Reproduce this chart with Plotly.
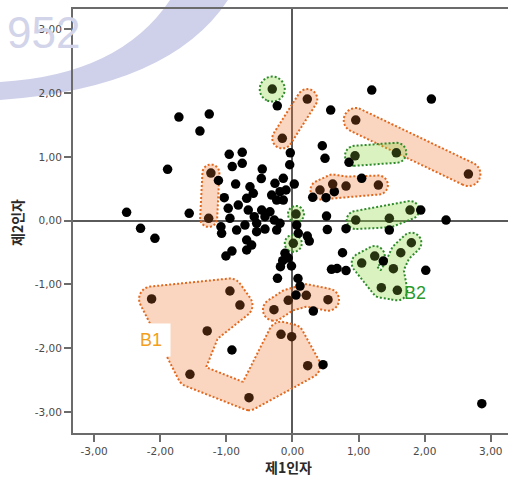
import numpy as np
import plotly.graph_objects as go

# ---- factor scores of the cases outside the marked groups ----
factor1 = [-1.718, -1.259, -1.400, -1.889, -2.509, -2.298, -2.081, -1.562,
           -0.957, -0.760, -0.911, -0.760, -1.120, -0.860, -0.457, -0.472,
           -0.033, -0.042, -0.265, -0.139, 0.027, -0.643, -0.593, -0.315,
           -0.189, -0.098, -0.693, -1.032, -0.239, -0.139, -0.820, -0.972,
           -0.669, -0.466, -0.341, -0.946, -0.578, -0.416, -0.189, -0.275,
           -0.542, -1.082, -0.719, -0.845, -0.542, -1.072, 0.064, 0.088,
           -0.693, -0.618, -1.007, -0.693, -0.114, -0.064, -0.148, -0.182,
           -0.015, -0.227, 0.083, 0.114, 0.053, 0.315, -0.230, 0.578,
           1.199, 2.101, 0.451, 0.492, 0.855, 1.047, 0.306, 0.507,
           0.633, 1.940, 2.323, 0.515, 0.527, 0.810, 1.465, 0.224,
           0.254, 0.757, 0.590, 0.674, 0.810, 1.374, 2.016, 0.462,
           2.864, -0.916, -0.916, -0.416, -0.239]
factor2 = [1.625, 1.672, 1.406, 0.805, 0.131, -0.120, -0.277, 0.115,
           1.040, 1.072, 0.849, 0.899, 0.630, 0.575, 0.810, 0.661,
           1.065, 0.877, 0.586, 0.664, 0.575, 0.532, 0.429, 0.402,
           0.454, 0.481, 0.350, 0.360, 0.324, 0.324, 0.245, 0.194,
           0.167, 0.167, 0.140, 0.037, 0.062, 0.062, -0.042, 0.010,
           -0.042, -0.095, -0.068, -0.147, -0.173, -0.198, -0.068, -0.198,
           -0.303, -0.382, -0.554, -0.460, -0.512, -0.586, -0.628, -0.722,
           -0.711, -0.904, -0.907, -1.025, -1.166, -1.417, 1.802, 1.735,
           2.048, 1.907, 1.175, 0.978, 0.915, 0.664, 0.366, 0.360,
           0.454, 0.167, 0.010, 0.073, -0.139, -0.126, -0.147, -0.241,
           -0.319, -0.503, -0.763, -0.750, -0.782, -0.633, -0.778, -2.259,
           -2.870, -2.028, -0.476, -0.131, -0.147]

# ---- marked groups (orange family) ----
b1_f1 = [-2.131, -0.946, -0.795, -1.290, -1.551, -0.658, -0.174, -0.012, 0.230]
b1_f2 = [-1.228, -1.103, -1.323, -1.730, -2.409, -2.776, -1.782, -1.820, -2.274]
o1_f1 = [-1.234, -1.268]
o1_f2 = [0.747, 0.037]
o2_f1 = [0.224, -0.154]
o2_f2 = [1.907, 1.291]
o3_f1 = [0.957, 2.661]
o3_f2 = [1.578, 0.731]
o4_f1 = [0.416, 0.608, 0.810, 1.299]
o4_f2 = [0.481, 0.575, 0.543, 0.559]
o5_f1 = [-0.280, -0.064, 0.209, 0.537]
o5_f2 = [-1.396, -1.249, -1.170, -1.239]

# ---- marked groups (green family) ----
b2_f1 = [1.047, 1.244, 1.526, 1.638, 1.798, 1.344, 1.586]
b2_f2 = [-0.664, -0.555, -0.753, -0.503, -0.346, -1.051, -1.092]
g1_f1 = [-0.306]
g1_f2 = [2.064]
g2_f1 = [0.946, 1.571]
g2_f2 = [1.018, 1.065]
g3_f1 = [0.957, 1.465, 1.778]
g3_f2 = [0.010, 0.037, 0.167]
g4_f1 = [0.053]
g4_f2 = [0.104]
g5_f1 = [0.012]
g5_f2 = [-0.355]

# axis ticks
tick_values = [-3, -2, -1, 0, 1, 2, 3]
tick_labels = ["-3,00", "-2,00", "-1,00", "0,00", "1,00", "2,00", "3,00"]

# ---- layout geometry ----
W, H = 508, 477
M_L, M_R, M_T, M_B = 73, 0, 9, 44
X_RANGE = [-3.32, 3.26]
Y_RANGE = [-3.33, 3.32]
PLOT_W = W - M_L - M_R
PLOT_H = H - M_T - M_B
SX = PLOT_W / (X_RANGE[1] - X_RANGE[0])   # px per unit, factor 1
SY = PLOT_H / (Y_RANGE[1] - Y_RANGE[0])   # px per unit, factor 2

ORANGE = dict(fill="rgba(240,120,50,0.30)", edge="#e2681e", dot="#3e1f0c")
GREEN = dict(fill="rgba(140,210,60,0.32)", edge="#2e8a2a", dot="#26350f")

# each group: members, pieces of its hull (indices into the members), hull radius in px
groups = [
    (b1_f1, b1_f2, [(0, 1, 2, 3), (0, 3, 4), (4, 5), (5, 8, 7, 6)], 12.5, ORANGE),
    (o1_f1, o1_f2, [(0, 1)], 8.5, ORANGE),
    (o2_f1, o2_f2, [(0, 1)], 10, ORANGE),
    (o3_f1, o3_f2, [(0, 1)], 12, ORANGE),
    (o4_f1, o4_f2, [(0, 1, 2, 3)], 9.5, ORANGE),
    (o5_f1, o5_f2, [(0, 1), (1, 2), (2, 3)], 11, ORANGE),
    (b2_f1, b2_f2, [(0, 1), (0, 5), (5, 6), (6, 2), (2, 3), (3, 4), (5, 2)], 10, GREEN),
    (g1_f1, g1_f2, [(0,)], 12.5, GREEN),
    (g2_f1, g2_f2, [(0, 1)], 10, GREEN),
    (g3_f1, g3_f2, [(0, 1, 2)], 9, GREEN),
    (g4_f1, g4_f2, [(0,)], 8, GREEN),
    (g5_f1, g5_f2, [(0,)], 8.5, GREEN),
]


def seg_dist(X, Y, a, b):
    dx, dy = b[0] - a[0], b[1] - a[1]
    L2 = dx * dx + dy * dy
    if L2 == 0:
        return np.hypot(X - a[0], Y - a[1])
    t = np.clip(((X - a[0]) * dx + (Y - a[1]) * dy) / L2, 0, 1)
    return np.hypot(X - (a[0] + t * dx), Y - (a[1] + t * dy))


def inside_convex(X, Y, v):
    cr = []
    n = len(v)
    for i in range(n):
        a, b = v[i], v[(i + 1) % n]
        cr.append((b[0] - a[0]) * (Y - a[1]) - (b[1] - a[1]) * (X - a[0]))
    cr = np.stack(cr)
    return np.all(cr >= 0, axis=0) | np.all(cr <= 0, axis=0)


def hull_field(f1, f2, parts, r):
    """Distance (px) from each grid node to the group's skeleton."""
    pad = r + 6
    gx = np.arange(min(f1) * SX - pad, max(f1) * SX + pad + 1, 1.0)
    gy = np.arange(min(f2) * SY - pad, max(f2) * SY + pad + 1, 1.0)
    X, Y = np.meshgrid(gx, gy)
    P = np.column_stack([np.asarray(f1) * SX, np.asarray(f2) * SY])
    field = np.full(X.shape, np.inf)
    for part in parts:
        v = P[list(part)]
        if len(v) == 1:
            d = np.hypot(X - v[0, 0], Y - v[0, 1])
        elif len(v) == 2:
            d = seg_dist(X, Y, v[0], v[1])
        else:
            d = np.min([seg_dist(X, Y, v[i], v[(i + 1) % len(v)])
                        for i in range(len(v))], axis=0)
            d = np.where(inside_convex(X, Y, v), 0.0, d)
        field = np.minimum(field, d)
    return gx / SX, gy / SY, np.round(field, 2)


fig = go.Figure()

# group hulls (filled, dotted outline); the shaded side is the one
# excluded by the constraint, so '>' shades the area within radius r
for f1, f2, parts, r, tone in groups:
    gx, gy, z = hull_field(f1, f2, parts, r)
    fig.add_trace(go.Contour(
        x=gx, y=gy, z=z,
        contours=dict(type="constraint", operation=">", value=r),
        fillcolor=tone["fill"],
        line=dict(color=tone["edge"], width=2, dash="2px,2px", smoothing=1.2),
        showscale=False, hoverinfo="skip", showlegend=False,
    ))

# ungrouped cases
fig.add_trace(go.Scatter(
    x=factor1, y=factor2, mode="markers",
    marker=dict(size=9.5, color="#000000", line=dict(width=0)),
    hoverinfo="x+y", showlegend=False,
))

# grouped cases
for f1, f2, parts, r, tone in groups:
    fig.add_trace(go.Scatter(
        x=f1, y=f2, mode="markers",
        marker=dict(size=9.5, color=tone["dot"], line=dict(width=0)),
        hoverinfo="x+y", showlegend=False,
    ))


def px_to_paper(px, py):
    return (px - M_L) / PLOT_W, (H - M_B - py) / PLOT_H


def band_path():
    pts = {"a": (0, 82), "c1": (120, 75), "b": (170, 0),
           "d": (228, 0), "c2": (170, 88), "e": (0, 100)}
    p = {k: px_to_paper(*v) for k, v in pts.items()}
    f = lambda t: f"{t[0]:.4f},{t[1]:.4f}"
    return (f"M {f(p['a'])} Q {f(p['c1'])} {f(p['b'])} L {f(p['d'])} "
            f"Q {f(p['c2'])} {f(p['e'])} Z")


axis_common = dict(
    showline=True, linecolor="#6b6b6b", linewidth=2,
    ticks="outside", ticklen=7, tickwidth=1.5, tickcolor="#6b6b6b",
    tickvals=tick_values, ticktext=tick_labels,
    tickfont=dict(family="DejaVu Sans", size=10.5, color="#4a4a4a"),
    showgrid=False, zeroline=True, zerolinecolor="#5a5a5a", zerolinewidth=1.5,
    fixedrange=True,
)

tx, ty = px_to_paper(288, 467)
yx, yy = px_to_paper(17, 223)
wx, wy = px_to_paper(43, 33)

fig.update_layout(
    width=W, height=H,
    margin=dict(l=M_L, r=M_R, t=M_T, b=M_B, pad=0),
    paper_bgcolor="white", plot_bgcolor="rgba(0,0,0,0)",
    xaxis=dict(range=X_RANGE, mirror=True, **axis_common),
    yaxis=dict(range=Y_RANGE, mirror=False, **axis_common),
    shapes=[dict(type="path", xref="paper", yref="paper", path=band_path(),
                 fillcolor="#cfd1ea", line=dict(width=0), layer="below")],
    annotations=[
        dict(text="952", xref="paper", yref="paper", x=wx, y=wy,
             xanchor="center", yanchor="middle", showarrow=False,
             font=dict(family="Liberation Sans", size=44, color="#d2d4ea")),
        dict(text="<b>제1인자</b>", xref="paper", yref="paper", x=tx, y=ty,
             xanchor="center", yanchor="middle", showarrow=False,
             font=dict(family="Noto Sans CJK KR", size=14, color="#2a2a2a")),
        dict(text="<b>제2인자</b>", xref="paper", yref="paper", x=yx, y=yy,
             xanchor="center", yanchor="middle", textangle=-90,
             showarrow=False,
             font=dict(family="Noto Sans CJK KR", size=14, color="#2a2a2a")),
        dict(text="B1", x=-2.083, y=-1.871, xref="x", yref="y",
             xanchor="center", yanchor="middle",
             showarrow=False, bgcolor="white", width=30, height=32,
             align="left", borderpad=0,
             font=dict(family="Liberation Sans", size=18, color="#f2a01c")),
        dict(text="B2", x=1.855, y=-1.127, xref="x", yref="y",
             xanchor="center", yanchor="middle", showarrow=False,
             font=dict(family="Liberation Sans", size=18, color="#2a9a2a")),
    ],
)

fig.write_html("out.html")
